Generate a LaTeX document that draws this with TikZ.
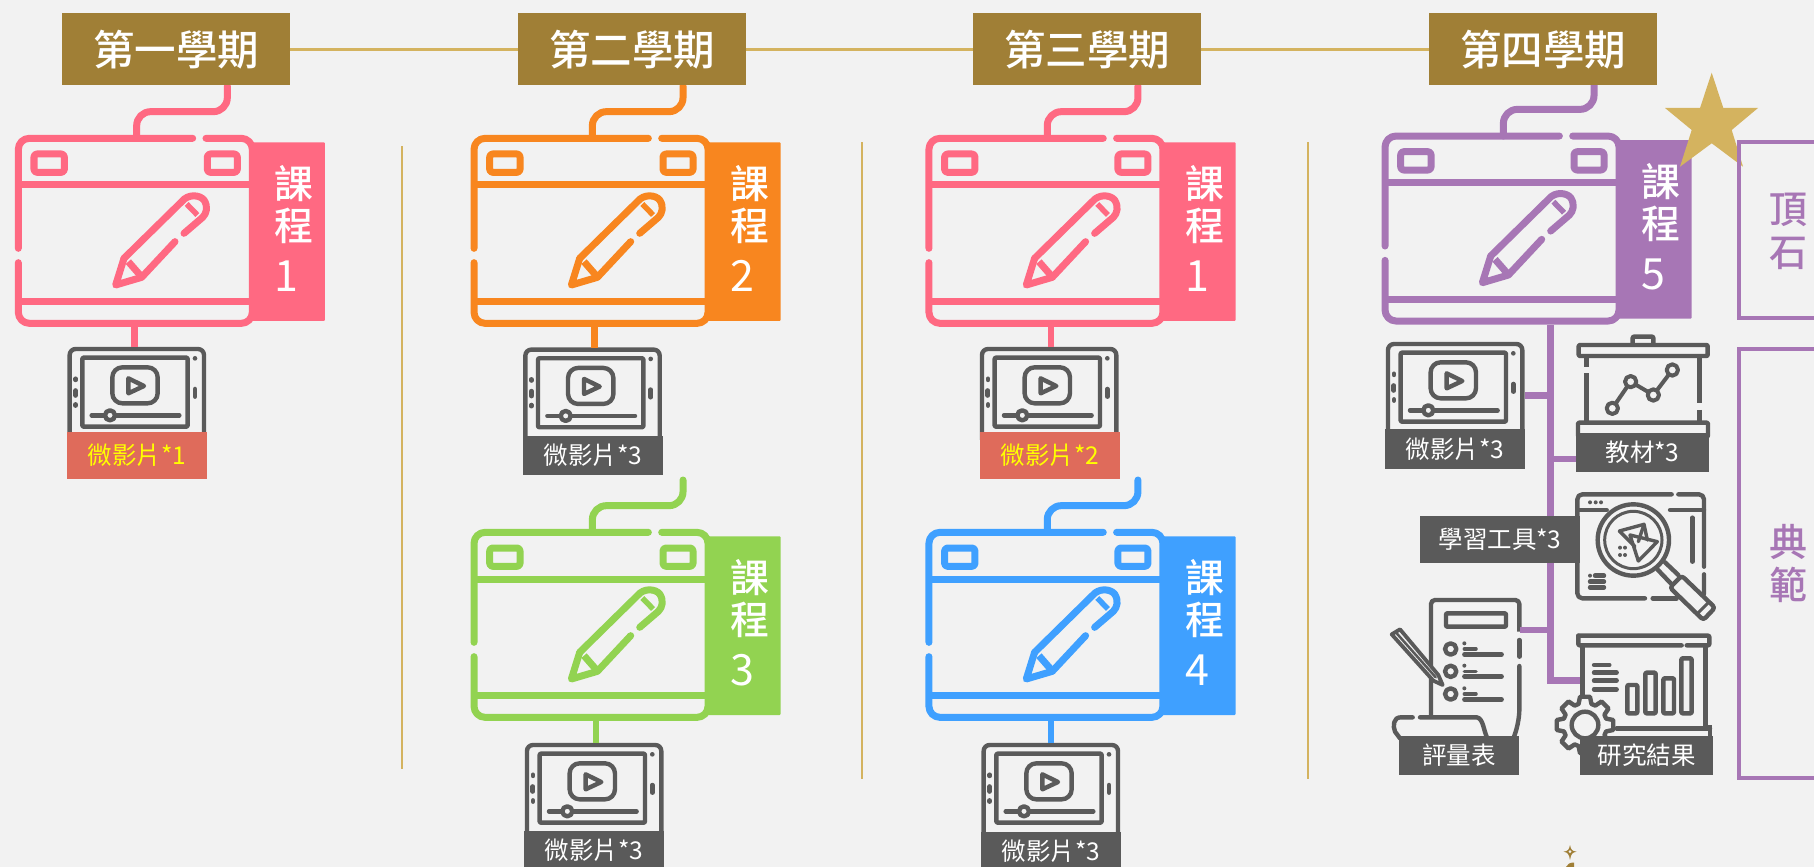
\documentclass[tikz,border=0pt]{standalone}
\usepackage{fontspec}
\setmainfont{Noto Sans CJK TC}
\newfontfamily\medf{Noto Sans CJK TC Medium}
\definecolor{bgc}{HTML}{F2F2F2}
\definecolor{brown}{HTML}{A07F36}
\definecolor{goldl}{HTML}{D4B35F}
\definecolor{dk}{HTML}{5A5A5A}
\definecolor{redl}{HTML}{DF6B5B}
\definecolor{yel}{HTML}{FFFF00}
\definecolor{pinkc}{HTML}{FF6982}
\definecolor{orgc}{HTML}{F8861F}
\definecolor{grnc}{HTML}{92D351}
\definecolor{bluc}{HTML}{3FA0FF}
\definecolor{purc}{HTML}{A776B5}
\tikzset{
  zoomed/.style={x=.33333pt,y=-.33333pt},
  thick7/.style={line width=7pt,line cap=round,line join=round},
  ico/.style={draw=dk,line width=4.4pt,line cap=round,line join=round},
  thin3/.style={draw=dk,line width=3.4pt,line cap=round,line join=round},
  cjk/.style={inner sep=0pt,font=\fontsize{#1}{#1}\selectfont,text height={.88*#1pt},text depth={.12*#1pt}},
  cjkm/.style={inner sep=0pt,font=\medf\fontsize{#1}{#1}\selectfont,text height={.88*#1pt},text depth={.12*#1pt}},
  conn/.style={line width=6.7pt},
  hdr/.style={cjkm=41.5,minimum width=228pt,minimum height=72pt,fill=brown,text=white},
  sidetxt/.style={cjkm=38,text=purc},
  goldline/.style={draw=goldl,line width=2.2pt},
  sepline/.style={draw=goldl,line width=2pt},
}
% #1 id, #2 x1, #3 y1, #4 x2, #5 y2, #6 fill, #7 text colour, #8 text
\newcommand{\Lab}[8]{\node[cjk=24.5,fill=#6,text=#7,minimum width={(#4-#2)*1pt},minimum height={(#5-#3)*1pt}] (#1) at ({(#2+#4)/2},{(#3+#5)/2}) {#8};}
% #1 id, #2 colour, #3 number, #4 dx, #5 dy
\newcommand{\Blk}[5]{%
\begin{scope}[shift={(#4,#5)},zoomed]
  \coordinate (#1-cable) at (682,258);
  \coordinate (#1-top) at (410,415);
  \coordinate (#1-bot) at (404,970);
  \draw[draw=#2,thick7,rounded corners=14pt] (#1-top) -- (410,335) -- (682,335) -- (#1-cable);
  \fill[#2,rounded corners=1pt] (750,427) rectangle (975,963);
  \draw[draw=#2,thick7,rounded corners=11pt] (578,415) -- (55,415) -- (55,745);
  \draw[draw=#2,thick7,rounded corners=11pt] (55,788) -- (55,970) -- (757,970) -- (757,415) -- (618,415);
  \draw[draw=#2,thick7,rounded corners=3pt] (102,462) rectangle (193,517);
  \draw[draw=#2,thick7,rounded corners=3pt] (622,462) rectangle (712,517);
  \draw[draw=#2,thick7,line cap=butt] (55,555) -- (750,555);
  \draw[draw=#2,thick7,line cap=butt] (55,905) -- (750,905);
  \draw[draw=#2,thick7] (372,775) -- (545,605) .. controls (565,580) and (600,585) .. (612,600) .. controls (625,620) and (620,640) .. (608,652) -- (552,700);
  \draw[draw=#2,thick7] (525,725) -- (425,832) -- (347,855) -- (372,775);
  \draw[draw=#2,thick7,line cap=butt] (385,785) -- (420,825);
  \draw[draw=#2,line width=5.5pt,line cap=butt] (560,612) -- (592,645);
  \node[cjkm=39,text=white] (#1-a) at (882,551) {課};
  \node[cjkm=39,text=white] (#1-b) at (882,678) {程};
  \node[inner sep=0pt,text=white,font=\fontsize{43}{43}\selectfont,anchor=base] (#1-n) at (860,875) {#3};
\end{scope}}
% #1 id, #2 dx, #3 dy, #4 connector x
\newcommand{\Vid}[4]{%
\begin{scope}[shift={(#2,#3)},zoomed]
  \coordinate (#1-top) at (#4,1041);
  \draw[ico,rounded corners=6pt,line cap=butt] (209,1320) -- (209,1047) -- (612,1047) -- (612,1320);
  \draw[ico,rounded corners=1pt] (247,1073) rectangle (563,1280);
  \draw[ico,rounded corners=10pt] (337,1102) rectangle (473,1210);
  \draw[ico] (385,1135) -- (432,1158) -- (385,1180) -- cycle;
  \draw[ico] (275,1246) -- (538,1246);
  \draw[ico,fill=bgc] (330,1246) circle[radius=15];
  \draw[ico] (227,1136) -- (227,1140);
  \draw[ico,line width=5pt] (227,1172) -- (227,1186);
  \draw[ico] (227,1213) -- (227,1217);
  \fill[dk] (585,1075) circle[radius=7];
  \draw[ico,line width=4.5pt] (585,1167) -- (585,1190);
\end{scope}}
\begin{document}
\begin{tikzpicture}[x=1pt,y=-1pt]
\useasboundingbox (0,0) rectangle (1814,866.7);
\clip (0,0) rectangle (1814,866.7);
\fill[bgc] (0,0) rectangle (1814,866.7);
% separators
\draw[sepline] (401.5,146) -- (401.5,769);
\draw[sepline] (862,142) -- (862,779);
\draw[sepline] (1307.5,142) -- (1307.5,779);
% blocks
\Blk{b1}{pinkc}{1}{0}{0}
\Blk{b2}{orgc}{2}{455.7}{0}
\Blk{b3}{grnc}{3}{455.7}{394}
\Blk{b4}{pinkc}{1}{910.6}{0}
\Blk{b5}{bluc}{4}{910.6}{394}
\Blk{b6}{purc}{5}{1366.7}{-2.3}
% headers
\coordinate (hc1) at (176,49.5);
\coordinate (hc2) at (632,49.5);
\coordinate (hc3) at (1087,49.5);
\coordinate (hc4) at (1543,49.5);
\draw[goldline] (hc1) -- (hc2) -- (hc3) -- (hc4);
\node[hdr] (h1) at (hc1) {第一學期};
\node[hdr] (h2) at (hc2) {第二學期};
\node[hdr] (h3) at (hc3) {第三學期};
\node[hdr] (h4) at (hc4) {第四學期};
% videos
\Vid{v1}{0}{0}{404}
\draw[pinkc,conn] (v1-top) -- (v1-top |- b1-bot);
\Lab{l1}{67}{432}{207}{479}{redl}{yel}{微影片*1}
\Vid{v2}{455.7}{0.6}{416}
\draw[orgc,conn] (v2-top) -- (v2-top |- b2-bot);
\Lab{l2}{523}{436}{663}{475}{dk}{white}{微影片*3}
\Vid{v3}{457.3}{396}{416}
\draw[grnc,conn] (v3-top) -- (v3-top |- b3-bot);
\Lab{l3}{524}{830.7}{664}{870}{dk}{white}{微影片*3}
\Vid{v4}{912.3}{0}{416}
\draw[pinkc,conn] (v4-top) -- (v4-top |- b4-bot);
\Lab{l4}{980}{432}{1120}{479}{redl}{yel}{微影片*2}
\Vid{v5}{914}{396}{411}
\draw[bluc,conn] (v5-top) -- (v5-top |- b5-bot);
\Lab{l5}{981}{831.7}{1121}{871}{dk}{white}{微影片*3}
% purple trunk
\coordinate (t0) at (1550.7,325);
\coordinate (t1) at (1550.7,680.7);
\draw[purc,conn,line join=miter] (t0) -- (t1) -- (1580,680.7);
\Vid{v6}{1318.3}{-5}{404}
\Lab{l6}{1385}{429}{1525}{469}{dk}{white}{微影片*3}
\draw[purc,conn] (l6.east |- t0 |- 0,395.7) -- (1550.7,395.7);
% teaching material icon
\begin{scope}[shift={(1370,60)},zoomed]
  \draw[ico,rounded corners=1pt] (788,852) -- (788,830) -- (850,830) -- (850,852);
  \draw[ico,rounded corners=1pt] (626,855) rectangle (1013,888);
  \draw[ico,line cap=butt] (650,890) -- (650,920);
  \draw[ico,line cap=butt] (650,940) -- (650,1085);
  \draw[ico,line cap=butt] (988,890) -- (988,1030);
  \draw[ico,line cap=butt] (988,1050) -- (988,1085);
  \draw[ico,line width=4pt] (727,1045) -- (782,965) -- (850,1005) -- (907,930);
  \foreach \p in {(727,1045),(782,965),(850,1005),(907,930)} \draw[ico,line width=4pt,fill=bgc] \p circle[radius=17];
  \draw[ico,rounded corners=1pt] (624,1088) rectangle (1014,1130);
\end{scope}
\Lab{l7}{1576}{432.7}{1709}{471.7}{dk}{white}{教材*3}
\draw[purc,conn] (1550.7,459) -- (l7.west |- 0,459);
% search icon: window
\begin{scope}[shift={(1570,485)},zoomed]
  \draw[ico,rounded corners=5pt] (305,28) -- (22,28) -- (22,340) -- (225,340);
  \draw[ico] (248,340) -- (320,340);
  \draw[ico,rounded corners=5pt] (325,28) -- (402,28) -- (402,245);
  \draw[ico,rounded corners=5pt] (402,268) -- (402,340) -- (370,340);
  \draw[ico] (22,75) -- (110,75);
  \draw[ico] (300,75) -- (402,75);
  \foreach \d in {60,77,93} \fill[dk] (\d,52) circle[radius=6];
  \draw[ico] (367,98) -- (367,230);
  \fill[dk] (60,272) circle[radius=6];
  \draw[ico] (75,272) -- (102,272);
  \draw[ico] (60,290) -- (102,290);
  \draw[ico] (60,307) -- (102,307);
\end{scope}
\Lab{l8}{1420}{516}{1580}{562.7}{dk}{white}{學習工具*3}
\begin{scope}[shift={(1570,485)},zoomed]
  \draw[ico] (285,232) -- (325,270);
  \draw[ico] (263,254) -- (305,298);
  \draw[ico,fill=bgc] (190,165) circle[radius=107];
  \draw[ico,line width=3pt] (190,165) circle[radius=86];
  \draw[thin3] (148,138) -- (222,118) -- (232,165);
  \draw[thin3] (148,138) -- (195,185);
  \draw[thin3] (180,150) -- (262,170) -- (205,228) -- cycle;
  \draw[thin3] (222,118) -- (205,170);
  \foreach \a/\b in {150/188,165/188,150/210,165/210} \fill[dk] (\a,\b) circle[radius=6];
  \draw[ico,fill=bgc,rounded corners=3pt] (335,272) -- (435,368) -- (400,405) -- (300,308) -- cycle;
  \draw[ico,line width=3pt] (380,388) -- (418,350);
\end{scope}
% assessment icon
\begin{scope}[shift={(1370,470)},zoomed]
  \draw[ico,rounded corners=4pt,line cap=butt] (183,735) -- (183,390) -- (448,390) -- (448,485);
  \draw[ico] (448,510) -- (448,560);
  \draw[ico,rounded corners=15pt] (448,588) -- (448,765) -- (430,805);
  \draw[ico,rounded corners=1pt] (228,430) rectangle (408,470);
  \foreach \o in {0,67,135} {
    \draw[ico] (242,537+\o) circle[radius=17];
    \fill[dk] (283,520+\o) circle[radius=6];
    \draw[ico,line width=3.5pt] (283,537+\o) -- (318,537+\o);
    \draw[ico] (283,553+\o) -- (395,553+\o);
  }
  \draw[ico] (128,742) -- (92,742) .. controls (70,742) and (68,768) .. (75,785) -- (90,805);
  \draw[ico] (150,742) -- (320,742) .. controls (340,745) and (340,780) .. (352,805);
  \draw[ico,fill=bgc,line width=3.8pt] (65,493) -- (90,478) -- (205,615) -- (218,645) -- (190,632) -- cycle;
  \draw[thin3,line width=2.5pt] (80,490) -- (197,622);
\end{scope}
\draw[purc,conn] (1520,630) -- (1550.7,630);
\Lab{l9}{1399}{735.7}{1519}{774.7}{dk}{white}{評量表}
% results icon
\begin{scope}[shift={(1370,470)},zoomed]
  \draw[ico,rounded corners=1pt] (625,497) -- (1018,497) -- (1018,526) -- (950,526);
  \draw[ico,rounded corners=1pt] (935,526) -- (625,526) -- (625,497);
  \draw[ico,line cap=butt] (637,530) -- (637,680);
  \draw[ico,line cap=butt] (1007,530) -- (1007,770);
  \draw[ico] (740,775) -- (1020,775);
  \draw[ico,line cap=butt] (1020,765) -- (1020,800);
  \foreach \a/\b/\c in {772/802/645,826/857/608,880/912/625,934/965/565} \draw[ico,rounded corners=1pt] (\a,\c) rectangle (\b,730);
  \draw[ico] (672,585) -- (718,585);
  \draw[ico] (672,608) -- (740,608);
  \draw[ico] (672,632) -- (740,632);
  \draw[ico] (672,658) -- (740,658);
  \draw[ico,fill=bgc] ({645+86*cos(-10)},{765+86*sin(-10)}) \foreach \k in {0,...,7} {
    -- ({645+86*cos(45*\k-10)},{765+86*sin(45*\k-10)})
    -- ({645+86*cos(45*\k+10)},{765+86*sin(45*\k+10)})
    -- ({645+66*cos(45*\k+17)},{765+66*sin(45*\k+17)})
    -- ({645+66*cos(45*\k+28)},{765+66*sin(45*\k+28)})
  } -- cycle;
  \draw[ico] (645,765) circle[radius=40];
\end{scope}
\Lab{l10}{1580}{735.7}{1713}{774.7}{dk}{white}{研究結果}
% star
\fill[goldl] (1711.7,72.7) -- (1723.3,108) -- (1758,108) -- (1731.7,130) -- (1743,166.7) -- (1711.7,143.3) -- (1680,166.7) -- (1691.7,130) -- (1665,108) -- (1700,108) -- cycle;
% right boxes
\draw[purc,line width=3.6pt] (1814,141.7) -- (1739,141.7) -- (1739,317.7) -- (1814,317.7);
\draw[purc,line width=3.6pt] (1814,349) -- (1739,349) -- (1739,778) -- (1814,778);
\node[sidetxt] (c1) at (1788,209) {頂};
\node[sidetxt] (c2) at (1788,251.7) {石};
\node[sidetxt] (c3) at (1788,542) {典};
\node[sidetxt] (c4) at (1788,585) {範};
% ornament
\fill[brown] (1570,845) .. controls (1571,850) and (1572,851) .. (1576.5,851.7) .. controls (1572,852.5) and (1571,854) .. (1570,860) .. controls (1569,854) and (1568,852.5) .. (1563.5,851.7) .. controls (1568,851) and (1569,850) .. (1570,845) -- cycle;
\fill[bgc] (1570,851.7) circle[radius=1.5];
\fill[brown] (1566,867) .. controls (1567,864) and (1570,862.5) .. (1574,862.5) -- (1574,867) -- cycle;
\end{tikzpicture}
\end{document}
